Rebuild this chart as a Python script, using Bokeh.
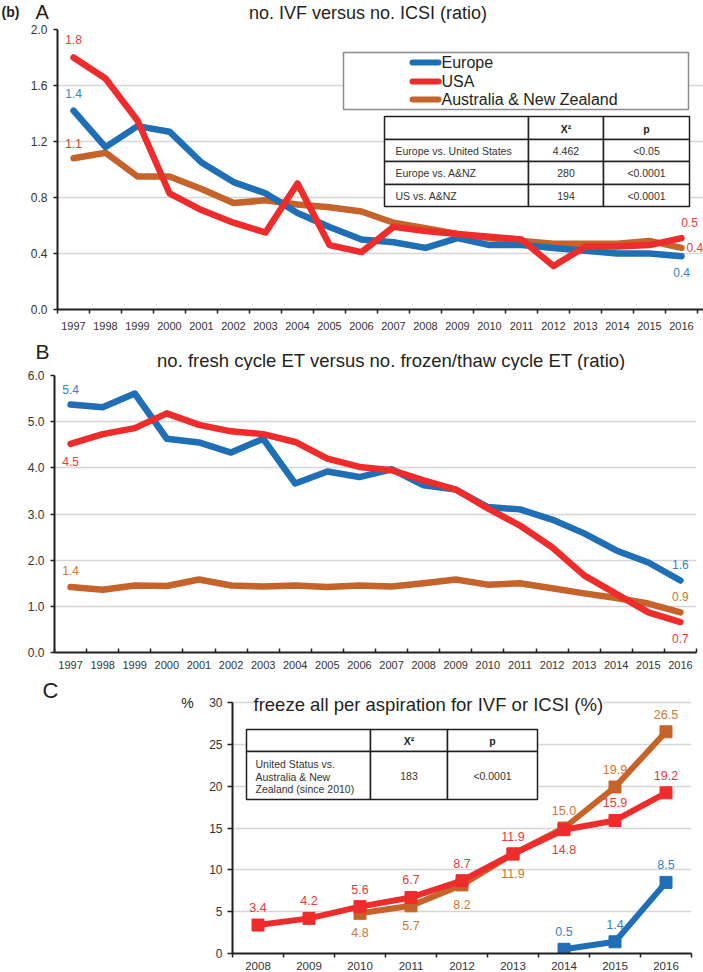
from bokeh.plotting import figure
from bokeh.models import Range1d, FixedTicker, PrintfTickFormatter, Label
from bokeh.layouts import row
from bokeh.embed import file_html
from bokeh.resources import INLINE

FONT = "Liberation Sans"
W = 703

# ---------------- data ----------------
years_ab = list(range(1997, 2017))
europe_ivf_icsi = [1.42, 1.16, 1.31, 1.27, 1.05, 0.91, 0.83, 0.69, 0.59, 0.50,
                   0.48, 0.44, 0.51, 0.46, 0.46, 0.44, 0.42, 0.40, 0.40, 0.38]
usa_ivf_icsi = [1.80, 1.65, 1.35, 0.83, 0.71, 0.62, 0.55, 0.90, 0.46, 0.41,
                0.59, 0.56, 0.54, 0.52, 0.50, 0.31, 0.45, 0.45, 0.46, 0.51]
anz_ivf_icsi = [1.08, 1.12, 0.95, 0.95, 0.86, 0.76, 0.78, 0.75, 0.73, 0.70,
                0.62, 0.58, 0.54, 0.51, 0.49, 0.47, 0.47, 0.47, 0.49, 0.44]

europe_fresh_frozen = [5.37, 5.31, 5.61, 4.63, 4.55, 4.33, 4.63, 3.66, 3.92, 3.80,
                       3.97, 3.62, 3.53, 3.15, 3.10, 2.88, 2.58, 2.21, 1.95, 1.56]
usa_fresh_frozen = [4.52, 4.73, 4.86, 5.18, 4.93, 4.79, 4.73, 4.56, 4.20, 4.02,
                    3.95, 3.73, 3.53, 3.12, 2.75, 2.28, 1.67, 1.27, 0.87, 0.66]
anz_fresh_frozen = [1.42, 1.36, 1.45, 1.44, 1.58, 1.45, 1.43, 1.45, 1.42, 1.45,
                    1.43, 1.50, 1.58, 1.47, 1.50, 1.39, 1.28, 1.18, 1.06, 0.87]

years_freeze = list(range(2008, 2017))
usa_freeze = [3.4, 4.2, 5.6, 6.7, 8.7, 11.9, 14.8, 15.9, 19.2]
anz_freeze_years = list(range(2010, 2017))
anz_freeze = [4.8, 5.7, 8.2, 11.9, 15.0, 19.9, 26.5]
europe_freeze_years = [2014, 2015, 2016]
europe_freeze = [0.5, 1.4, 8.5]

series_names = ["Europe", "USA", "Australia & New Zealand"]
ticks_a = [0.0, 0.4, 0.8, 1.2, 1.6, 2.0]
ticks_b = [0, 1, 2, 3, 4, 5, 6]
ticks_c = [0, 5, 10, 15, 20, 25, 30]

table_a_header = ["", "X²", "p"]
table_a_rows = ["Europe vs. United States", "Europe vs. A&NZ", "US vs. A&NZ"]
table_a_chi2 = ["4.462", "280", "194"]
table_a_p = ["<0.05", "<0.0001", "<0.0001"]
table_c_row = ["United Status vs.", "Australia & New", "Zealand (since 2010)"]
table_c_chi2 = "183"
table_c_p = "<0.0001"

title_a = "no.  IVF versus no. ICSI (ratio)"
title_b = "no. fresh cycle ET versus no. frozen/thaw cycle ET (ratio)"
title_c = "freeze all per aspiration for IVF or ICSI (%)"

# ---------------- styles ----------------
BLUE, RED, BROWN = "#1f6fb6", "#ee2c2c", "#c6632a"
BLUE_T, RED_T, BROWN_T = "#2f84cc", "#e8393b", "#d27530"
INK = "#231f20"
GRID = "#d6d6d6"


class Geo:
    """frame placement in page pixels, plus data ranges"""
    def __init__(self, canvas_left, canvas_top, width, height, fl, fr, ft, fb, x0, x1, y0, y1):
        self.cl, self.ct, self.w, self.h = canvas_left, canvas_top, width, height
        self.fl, self.fr, self.ft, self.fb = fl, fr, ft, fb
        self.x0, self.x1, self.y0, self.y1 = x0, x1, y0, y1

    def x(self, px):
        return self.x0 + (px - self.fl) / (self.fr - self.fl) * (self.x1 - self.x0)

    def y(self, py):
        return self.y0 + (self.fb - py) / (self.fb - self.ft) * (self.y1 - self.y0)

    def dx(self, d):
        return d / (self.fr - self.fl) * (self.x1 - self.x0)

    def dy(self, d):
        return d / (self.fb - self.ft) * (self.y1 - self.y0)


def make_fig(g, yticks, yfmt, xticks, xtick_out, xtick_in, ysize, xsize, xstand):
    p = figure(width=g.w, height=g.h,
               x_range=Range1d(g.x0, g.x1), y_range=Range1d(g.y0, g.y1),
               output_backend="svg", toolbar_location=None,
               min_border_left=int(g.fl - g.cl), min_border_right=int(g.cl + g.w - g.fr),
               min_border_top=int(g.ft - g.ct), min_border_bottom=int(g.ct + g.h - g.fb))
    p.outline_line_color = None
    p.border_fill_color = "white"
    p.background_fill_color = "white"
    p.xgrid.visible = False
    yt = FixedTicker(ticks=yticks)
    p.yaxis.ticker = yt
    p.ygrid.ticker = yt
    p.yaxis.bounds = (yticks[0], yticks[-1])
    p.ygrid.grid_line_color = GRID
    p.ygrid.grid_line_width = 1.5
    p.yaxis.formatter = PrintfTickFormatter(format=yfmt)
    p.yaxis.minor_tick_line_color = None
    p.yaxis.major_tick_out = 4
    p.yaxis.major_tick_in = 0
    p.yaxis.major_label_standoff = 6
    p.yaxis.major_tick_line_color = INK
    p.yaxis.major_tick_line_width = 1.5
    p.yaxis.axis_line_color = INK
    p.yaxis.axis_line_width = 2
    p.yaxis.major_label_text_font = FONT
    p.yaxis.major_label_text_font_size = ysize
    p.yaxis.major_label_text_color = "#333333"
    bounds = [t - 0.5 for t in xticks] + [xticks[-1] + 0.5]
    p.xaxis.ticker = FixedTicker(ticks=xticks, minor_ticks=bounds)
    p.xaxis.major_tick_line_color = None
    p.xaxis.major_tick_in = 0
    p.xaxis.major_tick_out = 0
    p.xaxis.minor_tick_line_color = INK
    p.xaxis.minor_tick_line_width = 1.5
    p.xaxis.minor_tick_out = xtick_out
    p.xaxis.minor_tick_in = xtick_in
    p.xaxis.major_label_standoff = xstand
    p.xaxis.axis_line_color = INK
    p.xaxis.axis_line_width = 2
    p.xaxis.major_label_text_font = FONT
    p.xaxis.major_label_text_font_size = xsize
    p.xaxis.major_label_text_color = "#333333"
    return p


def strip(left, width, top, bottom, pad_bottom=0):
    """text-only canvas whose data coordinates are page pixels"""
    p = figure(width=width, height=bottom - top + pad_bottom,
               x_range=Range1d(left, left + width), y_range=Range1d(bottom, top),
               x_axis_type=None, y_axis_type=None,
               output_backend="svg", toolbar_location=None,
               min_border_left=0, min_border_right=0, min_border_top=0,
               min_border_bottom=pad_bottom)
    p.outline_line_color = None
    p.border_fill_color = "white"
    p.background_fill_color = "white"
    return p


def stxt(p, px, py, text, size, color=INK, align="left", style="normal"):
    p.add_layout(Label(x=px, y=py, text=text, text_font=FONT, text_font_size=size,
                       text_color=color, text_align=align, text_baseline="middle",
                       text_font_style=style))


def txt(p, g, px, py, text, size, color=INK, align="left", style="normal", bg=None):
    kw = {}
    if bg is not None:
        kw["background_fill_color"] = bg
    p.add_layout(Label(x=g.x(px), y=g.y(py), text=text, text_font=FONT,
                       text_font_size=size, text_color=color, text_align=align,
                       text_baseline="middle", text_font_style=style, **kw))


def vlabel(p, g, x, y, color, dx=0, dy=0, align="center", size="12px"):
    p.add_layout(Label(x=x + g.dx(dx), y=y + g.dy(dy), text=f"{y:.1f}",
                       text_font=FONT, text_font_size=size, text_color=color,
                       text_align=align, text_baseline="middle"))


def cells(p, g, xs, ys, lw=1.5, color=INK):
    L, R, T, B = [], [], [], []
    for i in range(len(xs) - 1):
        for j in range(len(ys) - 1):
            L.append(g.x(xs[i])); R.append(g.x(xs[i + 1]))
            T.append(g.y(ys[j])); B.append(g.y(ys[j + 1]))
    p.quad(left=L, right=R, top=T, bottom=B, fill_color="white",
           line_color=color, line_width=lw)


# ---------------- header A ----------------
sa = strip(0, W, 0, 23)
stxt(sa, 1, 11, "(b)", "14px", style="bold")
stxt(sa, 35, 11, "A", "20px")
stxt(sa, 370, 12.5, title_a, "18px", align="center")

# ---------------- Panel A ----------------
ga = Geo(0, 23, W, 311, 57, 703, 29, 309, 1996.5, 2016.5 + 6 / 32, 0.0, 2.0)
pa = make_fig(ga, ticks_a, "%.1f", years_ab, 4, 0, "12px", "11px", 8)

for ys, c in [(anz_ivf_icsi, BROWN), (europe_ivf_icsi, BLUE), (usa_ivf_icsi, RED)]:
    pa.line(years_ab, ys, line_color=c, line_width=6.5, line_join="round", line_cap="round")

vlabel(pa, ga, years_ab[0], usa_ivf_icsi[0], RED_T, dy=18)
vlabel(pa, ga, years_ab[0], europe_ivf_icsi[0], BLUE_T, dy=17)
vlabel(pa, ga, years_ab[0], anz_ivf_icsi[0], "#c63c3c", dy=15)
vlabel(pa, ga, years_ab[-1], usa_ivf_icsi[-1], RED_T, dx=8, dy=16)
vlabel(pa, ga, years_ab[-1], europe_ivf_icsi[-1], BLUE_T, dy=-16)
vlabel(pa, ga, years_ab[-1], anz_ivf_icsi[-1], "#d9463c", dx=5, align="left")

# legend box
pa.quad(left=[ga.x(343)], right=[ga.x(688)], top=[ga.y(52)], bottom=[ga.y(109)],
        fill_color="white", line_color="#8c8c8c", line_width=1.5)
leg_y = [62, 81, 99]
for name, c, py in zip(series_names, [BLUE, RED, BROWN], leg_y):
    pa.segment(x0=[ga.x(412)], y0=[ga.y(py)], x1=[ga.x(438)], y1=[ga.y(py)],
               line_color=c, line_width=6, line_cap="round")
    txt(pa, ga, 441, py, name, "16px", color=INK)

# table A
cells(pa, ga, [384, 528, 603, 689], [116, 139, 161, 184, 206])
col_c = [456, 565.5, 646]
txt(pa, ga, col_c[1], 128, table_a_header[1], "10.5px", align="center", style="bold")
txt(pa, ga, col_c[2], 128, table_a_header[2], "10.5px", align="center", style="bold")
for i, ry in enumerate([150, 172.5, 195]):
    txt(pa, ga, 395, ry, table_a_rows[i], "10.5px", color="#333333")
    txt(pa, ga, col_c[1], ry, table_a_chi2[i], "10.5px", color="#333333", align="center")
    txt(pa, ga, col_c[2], ry, table_a_p[i], "10.5px", color="#333333", align="center")

# ---------------- header B ----------------
sb = strip(0, W, 334, 370)
stxt(sb, 35, 351, "B", "21px")
stxt(sb, 391, 360, title_b, "18.5px", align="center")

# ---------------- Panel B ----------------
gb = Geo(0, 370, W, 306, 54, 696, 375, 652, 1996.5, 2016.5, 0.0, 6.0)
pb = make_fig(gb, ticks_b, "%.1f", years_ab, 0, 4, "12px", "11px", 8)

for ys, c in [(anz_fresh_frozen, BROWN), (europe_fresh_frozen, BLUE), (usa_fresh_frozen, RED)]:
    pb.line(years_ab, ys, line_color=c, line_width=6.5, line_join="round", line_cap="round")

vlabel(pb, gb, years_ab[0], europe_fresh_frozen[0], BLUE_T, dy=15)
vlabel(pb, gb, years_ab[0], usa_fresh_frozen[0], RED_T, dy=-18)
vlabel(pb, gb, years_ab[0], anz_fresh_frozen[0], BROWN_T, dy=16)
vlabel(pb, gb, years_ab[-1], europe_fresh_frozen[-1], BLUE_T, dy=16)
vlabel(pb, gb, years_ab[-1], anz_fresh_frozen[-1], BROWN_T, dy=16)
vlabel(pb, gb, years_ab[-1], usa_fresh_frozen[-1], RED_T, dy=-16)

# ---------------- Panel C ----------------
sc = strip(0, 200, 676, 953, pad_bottom=19)
stxt(sc, 42, 690, "C", "22px")
stxt(sc, 187, 702, "%", "14px", align="center")

c_top_value = 30 + (702 - 676) / ((953 - 702) / 30)
gc = Geo(200, 676, 503, 296, 232, 691, 676, 953, 2007.5, 2016.5, 0.0, c_top_value)
pc = make_fig(gc, ticks_c, "%d", years_freeze, 4, 0, "12px", "11.5px", 4)
pc.yaxis.major_tick_out = 5
pc.yaxis.major_label_standoff = 5

txt(pc, gc, 253, 704, title_c, "18.5px", bg="white")

cells(pc, gc, [246, 370, 447, 537], [729, 751, 799])
txt(pc, gc, 408.5, 740, "X²", "10.5px", align="center", style="bold")
txt(pc, gc, 492, 740, "p", "10.5px", align="center", style="bold")
for line, ry in zip(table_c_row, [763, 776, 788.5]):
    txt(pc, gc, 255, ry, line, "10.5px", color="#333333")
txt(pc, gc, 408.5, 775, table_c_chi2, "10.5px", color="#333333", align="center")
txt(pc, gc, 492, 775, table_c_p, "10.5px", color="#333333", align="center")

for xs, ys, c in [(anz_freeze_years, anz_freeze, BROWN), (years_freeze, usa_freeze, RED),
                  (europe_freeze_years, europe_freeze, BLUE)]:
    pc.line(xs, ys, line_color=c, line_width=6, line_join="round")
    pc.scatter(xs, ys, marker="square", size=12, fill_color=c, line_color=c)

for x, y in zip(years_freeze, usa_freeze):
    vlabel(pc, gc, x, y, RED_T, dy=(-19.5 if x == 2014 else 17.5), size="12.5px")
for x, y in zip(anz_freeze_years, anz_freeze):
    vlabel(pc, gc, x, y, BROWN_T, dy=(-19.5 if x <= 2013 else 17.5), size="12.5px")
for x, y in zip(europe_freeze_years, europe_freeze):
    vlabel(pc, gc, x, y, BLUE_T, dy=17.5, size="12.5px")

rc = row(sc, pc, spacing=0)

roots = [sa, pa, sb, pb, rc]
open("out.html", "w").write(file_html(roots, INLINE))
